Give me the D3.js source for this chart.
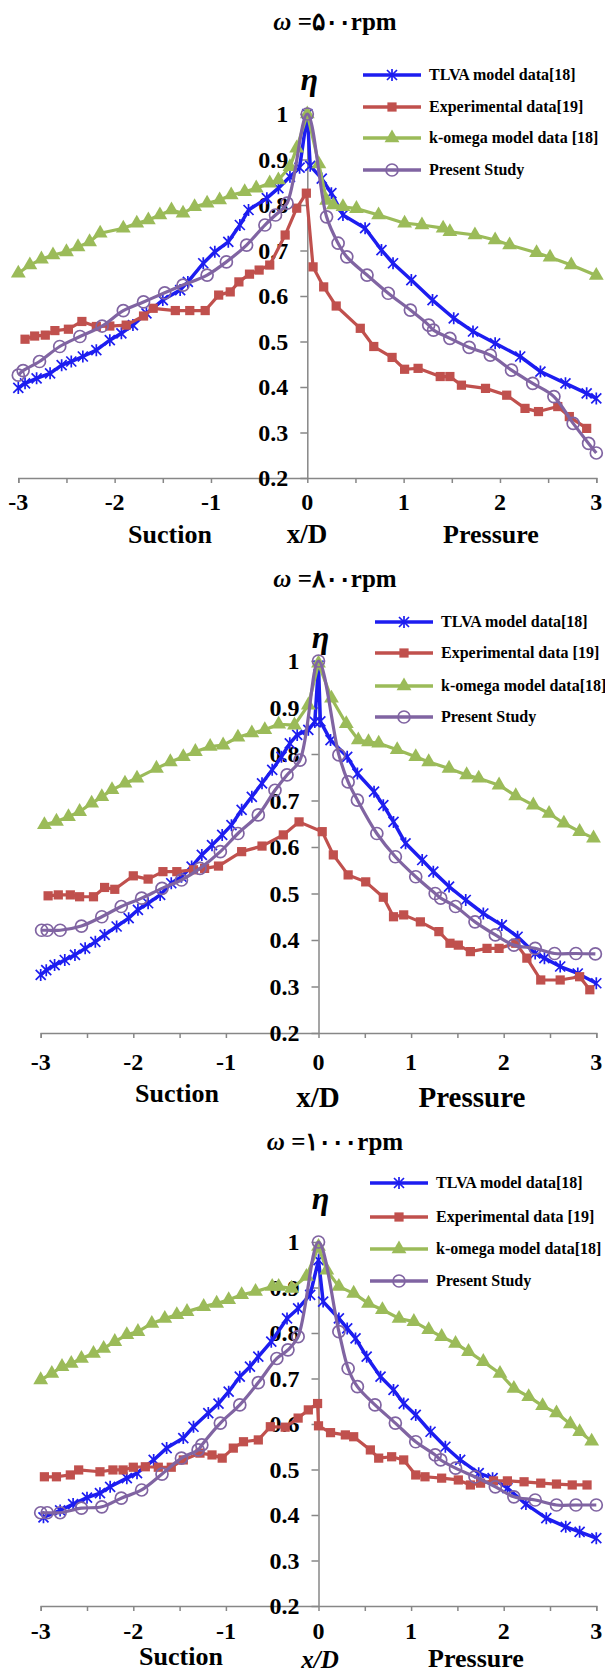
<!DOCTYPE html>
<html>
<head>
<meta charset="utf-8">
<script src="https://cdn.jsdelivr.net/npm/d3@7"></script>
<style>
  body { margin: 0; background: #fff; }
  svg { display: block; }
  text { font-family: "Liberation Serif", "Times New Roman", serif; font-weight: bold; fill: #000; }
</style>
</head>
<body>
<svg id="chart"></svg>
<script>
// tick values
const xTicks = [-3, -2, -1, 0, 1, 2, 3];
const xMinorTicks = [-3, -2.5, -2, -1.5, -1, -0.5, 0, 0.5, 1, 1.5, 2, 2.5, 3];
const yTicks = [0.2, 0.3, 0.4, 0.5, 0.6, 0.7, 0.8, 0.9, 1];

// panel titles + legend labels
const titles = ["\u03C9 =\u06F5\u06F0\u06F0rpm", "\u03C9 =\u06F8\u06F0\u06F0rpm", "\u03C9 =\u06F1\u06F0\u06F0\u06F0rpm"];
const legend500 = ["TLVA model data[18]", "Experimental data[19]", "k-omega model data [18]", "Present Study"];
const legend800 = ["TLVA model data[18]", "Experimental data [19]", "k-omega model data[18]", "Present Study"];
const legend1000 = ["TLVA model data[18]", "Experimental data [19]", "k-omega model data[18]", "Present Study"];

// ---- 500 rpm ----
const tlva500 = [[-3.0,0.398],[-2.93,0.408],[-2.81,0.419],[-2.67,0.43],[-2.55,0.448],[-2.45,0.456],[-2.33,0.467],[-2.19,0.481],[-2.05,0.503],[-1.93,0.518],[-1.81,0.536],[-1.67,0.562],[-1.5,0.591],[-1.32,0.613],[-1.24,0.631],[-1.08,0.672],[-0.96,0.697],[-0.82,0.719],[-0.7,0.756],[-0.61,0.789],[-0.42,0.815],[-0.3,0.837],[-0.18,0.862],[-0.08,0.882],[0,1.0],[0.03,0.886],[0.15,0.858],[0.25,0.826],[0.37,0.778],[0.6,0.749],[0.77,0.701],[0.89,0.672],[1.08,0.635],[1.3,0.591],[1.52,0.551],[1.72,0.522],[1.95,0.496],[2.21,0.467],[2.42,0.434],[2.68,0.408],[2.9,0.386],[3.0,0.375]];
const exp500 = [[-2.93,0.505],[-2.83,0.512],[-2.72,0.514],[-2.62,0.524],[-2.48,0.527],[-2.34,0.544],[-2.19,0.533],[-2.05,0.534],[-1.88,0.536],[-1.7,0.556],[-1.6,0.573],[-1.37,0.568],[-1.22,0.568],[-1.06,0.568],[-0.92,0.602],[-0.8,0.609],[-0.71,0.631],[-0.6,0.648],[-0.5,0.657],[-0.39,0.668],[-0.23,0.734],[-0.11,0.793],[-0.01,0.826],[0.06,0.664],[0.17,0.62],[0.3,0.578],[0.55,0.529],[0.69,0.489],[0.88,0.465],[1.01,0.439],[1.15,0.441],[1.38,0.423],[1.48,0.423],[1.6,0.404],[1.85,0.397],[2.07,0.382],[2.26,0.353],[2.4,0.346],[2.6,0.357],[2.72,0.335],[2.9,0.309]];
const komega500 = [[-3.0,0.65],[-2.88,0.668],[-2.76,0.681],[-2.64,0.69],[-2.5,0.697],[-2.38,0.708],[-2.26,0.719],[-2.15,0.738],[-1.91,0.749],[-1.77,0.76],[-1.65,0.767],[-1.53,0.778],[-1.41,0.789],[-1.29,0.782],[-1.17,0.796],[-1.04,0.804],[-0.91,0.811],[-0.79,0.822],[-0.65,0.829],[-0.53,0.837],[-0.39,0.848],[-0.3,0.855],[-0.18,0.884],[-0.11,0.925],[0,1.0],[0.12,0.89],[0.2,0.81],[0.27,0.8],[0.37,0.796],[0.51,0.792],[0.74,0.778],[1.01,0.76],[1.19,0.756],[1.41,0.749],[1.48,0.741],[1.74,0.734],[1.95,0.723],[2.1,0.712],[2.38,0.695],[2.52,0.685],[2.74,0.668],[3.0,0.645]];
const present500 = [[-3.0,0.426],[-2.95,0.436],[-2.78,0.456],[-2.57,0.489],[-2.36,0.511],[-2.13,0.534],[-1.91,0.568],[-1.7,0.587],[-1.48,0.607],[-1.29,0.624],[-1.04,0.646],[-0.84,0.675],[-0.63,0.712],[-0.44,0.756],[-0.33,0.778],[-0.21,0.804],[0,1.0],[0.2,0.774],[0.32,0.716],[0.41,0.686],[0.62,0.646],[0.84,0.606],[1.07,0.569],[1.26,0.536],[1.31,0.525],[1.48,0.507],[1.68,0.487],[1.9,0.47],[2.12,0.437],[2.34,0.408],[2.56,0.379],[2.76,0.32],[2.92,0.276],[3.0,0.255]];

// ---- 800 rpm ----
const tlva800 = [[-3.0,0.325],[-2.94,0.335],[-2.85,0.346],[-2.74,0.357],[-2.63,0.368],[-2.52,0.382],[-2.41,0.396],[-2.31,0.411],[-2.18,0.429],[-2.05,0.447],[-1.95,0.465],[-1.84,0.479],[-1.71,0.497],[-1.59,0.522],[-1.48,0.536],[-1.37,0.558],[-1.26,0.583],[-1.15,0.604],[-1.04,0.626],[-0.94,0.647],[-0.83,0.68],[-0.72,0.708],[-0.61,0.737],[-0.5,0.766],[-0.4,0.794],[-0.31,0.823],[-0.23,0.841],[-0.11,0.852],[-0.04,0.869],[0,0.99],[0.02,0.87],[0.13,0.83],[0.31,0.794],[0.42,0.758],[0.6,0.719],[0.7,0.69],[0.81,0.654],[0.94,0.608],[1.12,0.572],[1.24,0.547],[1.41,0.515],[1.59,0.486],[1.78,0.457],[1.98,0.432],[2.15,0.407],[2.34,0.371],[2.44,0.361],[2.61,0.343],[2.8,0.328],[3.0,0.307]];
const exp800 = [[-2.92,0.495],[-2.81,0.497],[-2.68,0.497],[-2.58,0.493],[-2.43,0.493],[-2.31,0.513],[-2.2,0.509],[-2.0,0.538],[-1.84,0.531],[-1.68,0.547],[-1.53,0.547],[-1.35,0.551],[-1.23,0.554],[-1.08,0.559],[-0.83,0.59],[-0.61,0.602],[-0.38,0.626],[-0.21,0.654],[0.04,0.633],[0.16,0.583],[0.32,0.54],[0.51,0.525],[0.7,0.492],[0.81,0.45],[0.92,0.454],[1.1,0.439],[1.3,0.418],[1.42,0.393],[1.51,0.389],[1.64,0.375],[1.82,0.382],[1.95,0.382],[2.13,0.393],[2.25,0.361],[2.4,0.314],[2.61,0.314],[2.82,0.321],[2.93,0.293]];
const komega800 = [[-2.96,0.648],[-2.83,0.655],[-2.7,0.665],[-2.58,0.676],[-2.45,0.694],[-2.34,0.708],[-2.23,0.723],[-2.09,0.737],[-1.96,0.748],[-1.75,0.769],[-1.6,0.783],[-1.46,0.794],[-1.33,0.805],[-1.17,0.816],[-1.03,0.819],[-0.87,0.836],[-0.72,0.845],[-0.58,0.852],[-0.43,0.864],[-0.26,0.862],[-0.11,0.905],[0,0.995],[0.14,0.92],[0.3,0.865],[0.43,0.83],[0.54,0.826],[0.65,0.823],[0.85,0.809],[1.05,0.794],[1.19,0.783],[1.41,0.769],[1.6,0.755],[1.73,0.748],[1.95,0.733],[2.13,0.71],[2.32,0.69],[2.49,0.672],[2.65,0.651],[2.82,0.633],[2.97,0.619]];
const present800 = [[-2.99,0.421],[-2.93,0.421],[-2.79,0.421],[-2.56,0.43],[-2.34,0.45],[-2.13,0.472],[-1.91,0.49],[-1.69,0.511],[-1.48,0.529],[-1.28,0.554],[-1.06,0.59],[-0.87,0.629],[-0.65,0.669],[-0.47,0.722],[-0.34,0.755],[-0.2,0.787],[0,1.0],[0.22,0.798],[0.32,0.74],[0.42,0.701],[0.63,0.629],[0.83,0.579],[1.05,0.536],[1.26,0.5],[1.32,0.49],[1.48,0.472],[1.69,0.439],[1.91,0.411],[2.11,0.389],[2.34,0.382],[2.55,0.371],[2.78,0.371],[2.99,0.37]];

// ---- 1000 rpm ----
const tlva1000 = [[-2.97,0.395],[-2.79,0.41],[-2.65,0.424],[-2.5,0.438],[-2.36,0.448],[-2.25,0.462],[-2.07,0.481],[-1.96,0.492],[-1.78,0.521],[-1.64,0.547],[-1.46,0.569],[-1.35,0.594],[-1.19,0.624],[-1.08,0.645],[-0.97,0.671],[-0.85,0.704],[-0.74,0.726],[-0.65,0.748],[-0.51,0.781],[-0.34,0.832],[-0.22,0.854],[-0.09,0.884],[0,0.96],[0.05,0.869],[0.22,0.832],[0.31,0.81],[0.4,0.788],[0.52,0.748],[0.67,0.704],[0.81,0.675],[0.92,0.645],[1.05,0.62],[1.21,0.583],[1.37,0.55],[1.53,0.521],[1.73,0.492],[1.88,0.481],[2.04,0.459],[2.24,0.424],[2.46,0.393],[2.67,0.374],[2.82,0.363],[3.0,0.349]];
const exp1000 = [[-2.96,0.484],[-2.83,0.484],[-2.68,0.488],[-2.59,0.499],[-2.36,0.495],[-2.22,0.499],[-2.11,0.499],[-2.0,0.505],[-1.87,0.506],[-1.73,0.505],[-1.59,0.505],[-1.46,0.521],[-1.28,0.536],[-1.15,0.532],[-1.04,0.525],[-0.92,0.547],[-0.81,0.561],[-0.65,0.565],[-0.52,0.594],[-0.36,0.593],[-0.22,0.613],[-0.11,0.631],[-0.01,0.645],[0.0,0.596],[0.13,0.581],[0.29,0.576],[0.38,0.572],[0.56,0.543],[0.65,0.525],[0.79,0.528],[0.92,0.521],[1.05,0.488],[1.15,0.484],[1.33,0.481],[1.51,0.477],[1.64,0.466],[1.75,0.47],[1.89,0.475],[2.04,0.475],[2.22,0.473],[2.4,0.47],[2.57,0.468],[2.74,0.466],[2.9,0.466]];
const komega1000 = [[-3.0,0.697],[-2.88,0.711],[-2.77,0.726],[-2.67,0.733],[-2.56,0.744],[-2.43,0.755],[-2.32,0.766],[-2.2,0.781],[-2.07,0.796],[-1.95,0.803],[-1.8,0.821],[-1.66,0.832],[-1.53,0.84],[-1.42,0.847],[-1.24,0.858],[-1.1,0.865],[-0.97,0.873],[-0.83,0.884],[-0.68,0.891],[-0.5,0.902],[-0.43,0.902],[-0.29,0.898],[-0.13,0.924],[0,0.99],[0.09,0.938],[0.22,0.902],[0.38,0.887],[0.54,0.865],[0.69,0.851],[0.87,0.832],[1.03,0.825],[1.19,0.807],[1.33,0.792],[1.48,0.777],[1.62,0.759],[1.78,0.737],[1.96,0.711],[2.11,0.678],[2.27,0.66],[2.42,0.64],[2.57,0.624],[2.72,0.6],[2.82,0.583],[2.95,0.562]];
const present1000 = [[-3.0,0.405],[-2.93,0.405],[-2.79,0.405],[-2.56,0.415],[-2.34,0.418],[-2.13,0.437],[-1.91,0.455],[-1.69,0.49],[-1.48,0.525],[-1.3,0.543],[-1.26,0.554],[-1.06,0.602],[-0.85,0.642],[-0.65,0.691],[-0.45,0.744],[-0.33,0.763],[-0.22,0.792],[0,1.0],[0.22,0.803],[0.32,0.722],[0.42,0.682],[0.61,0.642],[0.83,0.602],[1.05,0.561],[1.26,0.532],[1.32,0.521],[1.48,0.503],[1.69,0.484],[1.91,0.462],[2.11,0.44],[2.34,0.433],[2.57,0.422],[2.78,0.422],[3.0,0.422]];

const colors = ["#1d1df0", "#c0504d", "#9bbb59", "#8064a2"];
const markerKinds = ["star", "square", "triangle", "circle"];

// layout of each panel (pixel positions)
const panels = [
  { title: titles[0], legend: legend500, series: [tlva500, exp500, komega500, present500],
    xl: 18.3, xr: 596.3, yTop: 114, yBot: 478, titleY: 30, etaY: 90, legX: 363, legY: [75, 107, 138, 170],
    tickLabelY: 510, labels: { s: [170, 543, 26], x: [307, 543, 27, false], p: [491, 543, 26] } },
  { title: titles[1], legend: legend800, series: [tlva800, exp800, komega800, present800],
    xl: 40.7, xr: 596.3, yTop: 661, yBot: 1033, titleY: 587, etaY: 648, legX: 375, legY: [622, 653, 686, 717],
    tickLabelY: 1070, labels: { s: [177, 1102, 26], x: [318, 1107, 29, false], p: [472, 1107, 29] } },
  { title: titles[2], legend: legend1000, series: [tlva1000, exp1000, komega1000, present1000],
    xl: 40.7, xr: 596.3, yTop: 1242, yBot: 1606, titleY: 1150, etaY: 1209, legX: 370, legY: [1183, 1217, 1249, 1281],
    tickLabelY: 1639, labels: { s: [181, 1665, 26], x: [320, 1667.5, 25, true], p: [476, 1667, 26] } }
];

const svg = d3.select("#chart").attr("width", 605).attr("height", 1673);
svg.append("rect").attr("width", 605).attr("height", 1673).attr("fill", "#fff");

const starPath = (s) => {
  const h = s / 2;
  return `M${-h},${-h}L${h},${h}M${-h},${h}L${h},${-h}M0,${-h - 1}L0,${h + 1}`;
};

const drawMarker = (g, kind, color, cx, cy) => {
  if (kind === "star") {
    g.append("path").attr("d", starPath(10)).attr("transform", `translate(${cx},${cy})`)
      .attr("stroke", color).attr("stroke-width", 1.7).attr("fill", "none");
  } else if (kind === "square") {
    g.append("path").attr("d", d3.symbol(d3.symbolSquare, 85)())
      .attr("transform", `translate(${cx},${cy})`).attr("fill", color);
  } else if (kind === "triangle") {
    g.append("path").attr("d", d3.symbol(d3.symbolTriangle, 95)())
      .attr("transform", `translate(${cx},${cy})`).attr("fill", color);
  } else {
    g.append("circle").attr("cx", cx).attr("cy", cy).attr("r", 6)
      .attr("fill", "none").attr("stroke", color).attr("stroke-width", 1.7);
  }
};

panels.forEach((p) => {
  const x = d3.scaleLinear().domain([-3, 3]).range([p.xl, p.xr]);
  const y = d3.scaleLinear().domain([0.2, 1]).range([p.yBot, p.yTop]);
  const g = svg.append("g");

  // title
  g.append("text").attr("x", 335).attr("y", p.titleY).attr("text-anchor", "middle")
    .attr("font-size", 25)
    .html(`<tspan font-style="italic">\u03C9</tspan>${p.title.slice(1)}`);

  // axes
  const axisColor = "#878787";
  const xAxis = g.append("g").attr("transform", `translate(0,${p.yBot})`)
    .call(d3.axisBottom(x).tickValues(xMinorTicks).tickSize(5).tickFormat(""));
  xAxis.select(".domain").attr("stroke", axisColor).attr("stroke-width", 1.5);
  xAxis.selectAll(".tick line").attr("stroke", axisColor).attr("stroke-width", 1.5);

  const yAxis = g.append("g").attr("transform", `translate(${x(0)},0)`)
    .call(d3.axisLeft(y).tickValues(yTicks).tickSize(7).tickSizeOuter(0).tickFormat(""));
  yAxis.select(".domain").attr("stroke", axisColor).attr("stroke-width", 1.5);
  yAxis.selectAll(".tick line").attr("stroke", axisColor).attr("stroke-width", 1.5);

  // tick labels
  g.selectAll(".ylab").data(yTicks).enter().append("text")
    .attr("x", x(0) - 19).attr("y", (d) => y(d) + 8).attr("text-anchor", "end")
    .attr("font-size", 24).text((d) => d === 1 ? "1" : d3.format(".1f")(d));
  g.selectAll(".xlab").data(xTicks).enter().append("text")
    .attr("x", (d) => x(d)).attr("y", p.tickLabelY).attr("text-anchor", "middle")
    .attr("font-size", 24).text((d) => d);

  // series
  p.series.forEach((data, i) => {
    const line = d3.line().x((d) => x(d[0])).y((d) => y(d[1]));
    if (i === 3) line.curve(d3.curveCatmullRom.alpha(0.5));
    g.append("path").datum(data).attr("d", line).attr("fill", "none")
      .attr("stroke", colors[i]).attr("stroke-width", i === 0 ? 3.5 : 3.2)
      .attr("stroke-linejoin", "round");
    const mg = g.append("g");
    data.forEach((d) => drawMarker(mg, markerKinds[i], colors[i], x(d[0]), y(d[1])));
  });

  // eta
  g.append("text").attr("x", x(0) + 2).attr("y", p.etaY).attr("text-anchor", "middle")
    .attr("font-size", 32).attr("font-style", "italic").text("\u03B7");

  // axis labels
  g.append("text").attr("x", p.labels.s[0]).attr("y", p.labels.s[1]).attr("text-anchor", "middle")
    .attr("font-size", p.labels.s[2]).text("Suction");
  g.append("text").attr("x", p.labels.x[0]).attr("y", p.labels.x[1]).attr("text-anchor", "middle")
    .attr("font-size", p.labels.x[2]).attr("font-style", p.labels.x[3] ? "italic" : "normal").text("x/D");
  g.append("text").attr("x", p.labels.p[0]).attr("y", p.labels.p[1]).attr("text-anchor", "middle")
    .attr("font-size", p.labels.p[2]).text("Pressure");

  // legend
  p.legend.forEach((name, i) => {
    const ly = p.legY[i];
    g.append("line").attr("x1", p.legX).attr("x2", p.legX + 58).attr("y1", ly).attr("y2", ly)
      .attr("stroke", colors[i]).attr("stroke-width", 3.5);
    drawMarker(g, markerKinds[i], colors[i], p.legX + 29, ly);
    g.append("text").attr("x", p.legX + 66).attr("y", ly + 5).attr("font-size", 16).text(name);
  });
});
</script>
</body>
</html>
